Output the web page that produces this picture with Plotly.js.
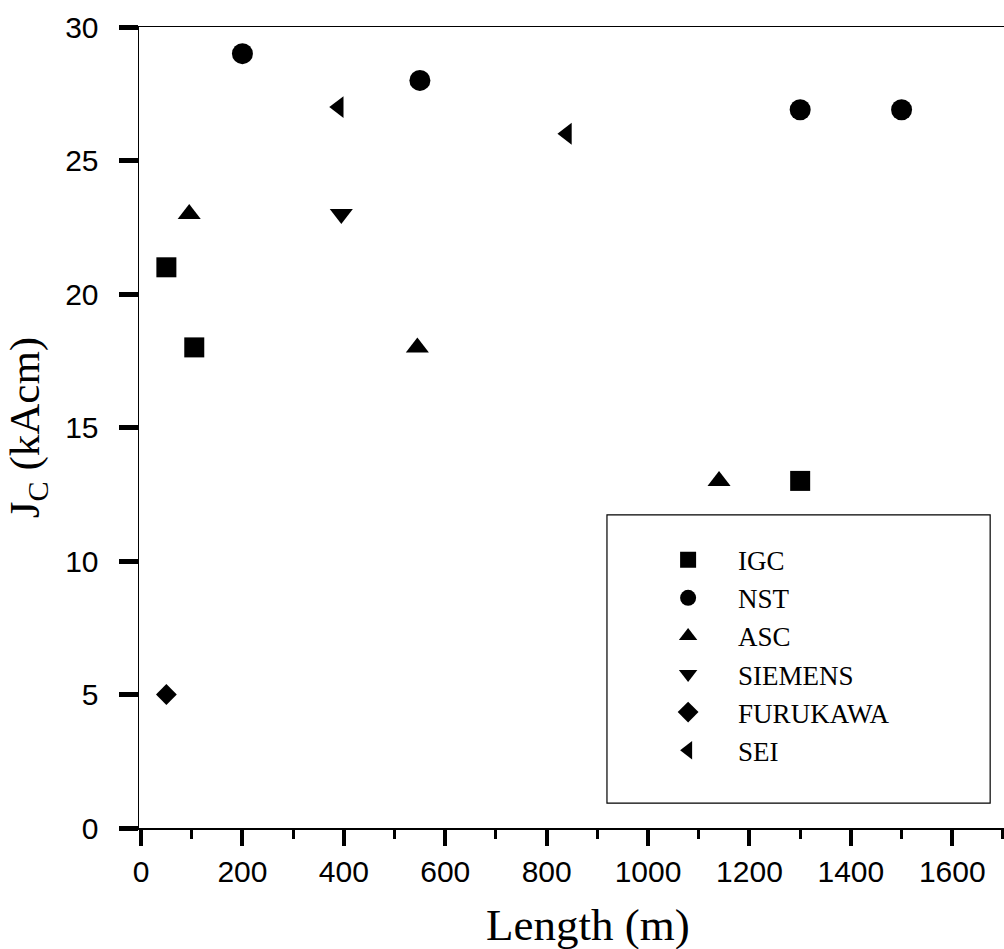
<!DOCTYPE html>
<html>
<head>
<meta charset="utf-8">
<script src="https://cdn.plot.ly/plotly-3.0.1.min.js"></script>
<style>
  html, body { margin: 0; padding: 0; background: #fff; }
  #chart { width: 1004px; height: 949px; }
</style>
</head>
<body>
<div id="chart"></div>
<script>
// Critical current (kAcm) against conductor length (m), by manufacturer
const makers = ['IGC', 'NST', 'ASC', 'SIEMENS', 'FURUKAWA', 'SEI'];

const igcLength = [50, 105, 1300];
const igcJc     = [21, 18, 13];

const nstLength = [200, 550, 1300, 1500];
const nstJc     = [29, 28, 26.9, 26.9];

const ascLength = [95, 545, 1140];
const ascJc     = [23, 18, 13];

const siemensLength = [395];
const siemensJc     = [23];

const furukawaLength = [50];
const furukawaJc     = [5];

const seiLength = [390, 840];
const seiJc     = [27, 26];

const xTickVals = [0, 200, 400, 600, 800, 1000, 1200, 1400, 1600];
const yTickVals = [0, 5, 10, 15, 20, 25, 30];

const xTitle = 'Length (m)';
const yTitle = 'J<sub>C</sub> (kAcm)';

const series = [
  { x: igcLength,      y: igcJc,      symbol: 'square',         size: 20 },
  { x: nstLength,      y: nstJc,      symbol: 'circle',         size: 21 },
  { x: ascLength,      y: ascJc,      symbol: 'triangle-up',    size: 20 },
  { x: siemensLength,  y: siemensJc,  symbol: 'triangle-down',  size: 20 },
  { x: furukawaLength, y: furukawaJc, symbol: 'diamond',        size: 16 },
  { x: seiLength,      y: seiJc,      symbol: 'triangle-left',  size: 19 }
];

const traces = series.map((s, i) => ({
  type: 'scatter',
  mode: 'markers',
  name: makers[i],
  x: s.x,
  y: s.y,
  marker: { symbol: s.symbol, size: s.size, color: '#000', line: { width: 0 } },
  hoverinfo: 'x+y+name'
}));

const serif = '"Liberation Serif", "Times New Roman", serif';
const sans = '"Liberation Sans", Arial, sans-serif';

const layout = {
  width: 1004,
  height: 949,
  margin: { l: 139, r: 0, t: 27, b: 121, pad: 0 },
  paper_bgcolor: '#fff',
  plot_bgcolor: '#fff',
  showlegend: true,
  legend: {
    x: 0.577, xanchor: 'left',
    y: 0.365, yanchor: 'top',
    bgcolor: 'rgba(0,0,0,0)',
    borderwidth: 0,
    itemwidth: 90,
    font: { family: serif, size: 27, color: '#000' }
  },
  xaxis: {
    range: [-4, 1702],
    tickmode: 'array',
    tickvals: xTickVals,
    ticktext: xTickVals.map(String),
    ticks: 'outside',
    ticklen: 16,
    tickwidth: 4,
    tickcolor: '#000',
    minor: { dtick: 100, tick0: 0, ticks: 'outside', ticklen: 9, tickwidth: 3, tickcolor: '#000' },
    showline: true,
    linecolor: '#000',
    linewidth: 1.5,
    mirror: true,
    showgrid: false,
    zeroline: false,
    tickfont: { family: sans, size: 30, color: '#000' }
  },
  yaxis: {
    range: [0, 30],
    tickmode: 'array',
    tickvals: yTickVals,
    ticktext: yTickVals.map(String),
    ticks: 'outside',
    ticklen: 19,
    tickwidth: 5,
    tickcolor: '#000',
    ticklabelstandoff: 14,
    showline: true,
    linecolor: '#000',
    linewidth: 1.5,
    showgrid: false,
    zeroline: false,
    tickfont: { family: sans, size: 30, color: '#000' },
    title: { text: yTitle, font: { family: serif, size: 43, color: '#000' }, standoff: 12 }
  },
  annotations: [
    // x-axis caption, set a little right of the plot centre
    { text: xTitle, xref: 'paper', yref: 'paper', x: 0.519, y: -0.121,
      xanchor: 'center', yanchor: 'middle', showarrow: false,
      font: { family: serif, size: 45, color: '#000' } }
  ],
  shapes: [
    // frame around the legend
    { type: 'rect', xref: 'paper', yref: 'paper', x0: 0.541, x1: 0.984, y0: 0.031, y1: 0.391,
      line: { color: '#000', width: 1.2 }, fillcolor: 'rgba(0,0,0,0)', layer: 'below' }
  ]
};

Plotly.newPlot('chart', traces, layout, { displayModeBar: false, staticPlot: true });
</script>
</body>
</html>
